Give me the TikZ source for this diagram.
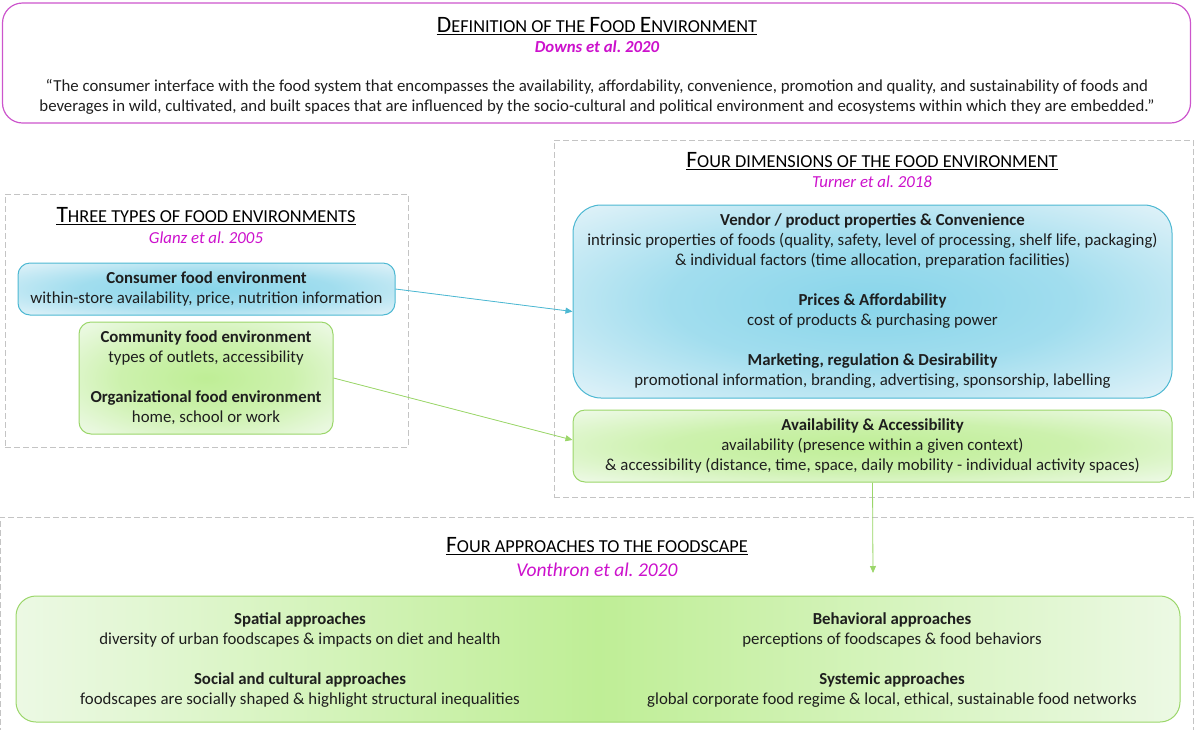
\documentclass[tikz,border=0pt]{standalone}
\usepackage{fontspec}
\setmainfont{Carlito}
\usetikzlibrary{arrows.meta}
\frenchspacing

\definecolor{defmag}{HTML}{CC55CC}
\definecolor{citemag}{HTML}{CC11CC}
\definecolor{bluedge}{HTML}{4DB8D2}
\definecolor{bluein}{HTML}{88D5EA}
\definecolor{blueout}{HTML}{DDF1F8}
\definecolor{greenedge}{HTML}{9BD66A}
\definecolor{greenin}{HTML}{BFEE96}
\definecolor{greenout}{HTML}{ECF9E4}
\definecolor{dashgray}{HTML}{C4C4C4}
\definecolor{txt}{HTML}{1E1E1E}

\pgfdeclareradialshading{blueglow}{\pgfpoint{0bp}{0bp}}{color(0bp)=(bluein); color(17bp)=(bluein!70!blueout); color(34bp)=(blueout); color(50bp)=(blueout)}
\pgfdeclareradialshading{greenglow}{\pgfpoint{0bp}{0bp}}{color(0bp)=(greenin); color(17bp)=(greenin!70!greenout); color(34bp)=(greenout); color(50bp)=(greenout)}

% fake small caps for the headings
\newcommand{\bigc}[1]{{\fontsize{23.5}{26}\selectfont #1}}
\newcommand{\smc}[1]{{\fontsize{18.3}{22}\selectfont\MakeUppercase{#1}}}

\tikzset{
  body/.style={font=\fontsize{16.8}{20}\selectfont, text=txt, align=center},
  headtxt/.style={inner sep=0pt, anchor=base, text=black},
  citetxt/.style={inner sep=0pt, anchor=base, text=citemag, font=\fontsize{16.8}{20}\selectfont\itshape},
  framebox/.style={draw=dashgray, dash pattern=on 6pt off 3pt, line width=0.9pt},
  bluebox/.style={body, draw=bluedge, line width=1pt, rounded corners=12pt, shading=blueglow},
  greenbox/.style={body, draw=greenedge, line width=1pt, rounded corners=12pt, shading=greenglow},
  link/.style={line width=0.8pt, -{Triangle[length=7pt,width=6pt]}},
}

\begin{document}
\begin{tikzpicture}[x=1pt, y=-1pt]
	\useasboundingbox (0,0) rectangle (1194,729);

	% Definition
	\node[draw=defmag, line width=1.2pt, rounded corners=20pt, minimum width=1188, minimum height=120] (defn) at (596.5,63) {};
	\node[headtxt] (deftitle) at (597,32) {\bigc{D}\smc{efinition of the }\bigc{F}\smc{ood }\bigc{E}\smc{nvironment}};
	\draw[line width=1.4pt] ([yshift=-2.5pt]deftitle.base west) -- ([yshift=-2.5pt]deftitle.base east);
	\node[citetxt, font=\fontsize{16.8}{20}\selectfont\bfseries\itshape] (defcite) at (597,52) {Downs et al. 2020};
	\node[body] (quote) at (597,97) {“The consumer interface with the food system that encompasses the availability, affordability, convenience, promotion and quality, and sustainability of foods and\\beverages in wild, cultivated, and built spaces that are influenced by the socio-cultural and political environment and ecosystems within which they are embedded.”};

	% Three types
	\node[framebox, minimum width=403, minimum height=253] (typesframe) at (206.5,320.5) {};
	\node[headtxt] (typestitle) at (206,222) {\bigc{T}\smc{hree types of food environments}};
	\draw[line width=1.4pt] ([yshift=-2.5pt]typestitle.base west) -- ([yshift=-2.5pt]typestitle.base east);
	\node[citetxt] (typescite) at (206,243) {Glanz et al. 2005};
	\node[bluebox, minimum width=377, minimum height=52] (cons) at (206.5,289) {\textbf{Consumer food environment}\\within-store availability, price, nutrition information};
	\node[greenbox, minimum width=254, minimum height=112] (comm) at (206,378) {\textbf{Community food environment}\\types of outlets, accessibility\\[20pt]\textbf{Organizational food environment}\\home, school or work};

	% Four dimensions
	\node[framebox, minimum width=639, minimum height=357] (dimsframe) at (873.5,318.5) {};
	\node[headtxt] (dimstitle) at (872,167) {\bigc{F}\smc{our dimensions of the food environment}};
	\draw[line width=1.4pt] ([yshift=-2.5pt]dimstitle.base west) -- ([yshift=-2.5pt]dimstitle.base east);
	\node[citetxt] (dimscite) at (872,187) {Turner et al. 2018};
	\node[bluebox, rounded corners=28pt, minimum width=599, minimum height=193] (dims) at (872.5,301.5) {\textbf{Vendor / product properties \& Convenience}\\intrinsic properties of foods (quality, safety, level of processing, shelf life, packaging)\\\& individual factors (time allocation, preparation facilities)\\[20pt]\textbf{Prices \& Affordability}\\cost of products \& purchasing power\\[20pt]\textbf{Marketing, regulation \& Desirability}\\promotional information, branding, advertising, sponsorship, labelling};
	\node[greenbox, minimum width=599, minimum height=72] (avail) at (872.5,446) {\textbf{Availability \& Accessibility}\\availability (presence within a given context)\\\& accessibility (distance, time, space, daily mobility - individual activity spaces)};

	% Four approaches
	\node[framebox, minimum width=1193, minimum height=220] (appframe) at (596.5,627) {};
	\node[headtxt] (apptitle) at (597,552) {\bigc{F}\smc{our approaches to the foodscape}};
	\draw[line width=1.4pt] ([yshift=-2.5pt]apptitle.base west) -- ([yshift=-2.5pt]apptitle.base east);
	\node[citetxt, font=\fontsize{19.5}{22}\selectfont\itshape] (appcite) at (597,576) {Vonthron et al. 2020};
	\node[draw=greenedge, line width=1pt, rounded corners=20pt, minimum width=1164, minimum height=126,
	  left color=greenout, right color=greenout, middle color=greenin] (approach) at (598,659) {};
	\node[body] (leftcol) at (300,660) {\textbf{Spatial approaches}\\diversity of urban foodscapes \& impacts on diet and health\\[20pt]\textbf{Social and cultural approaches}\\foodscapes are socially shaped \& highlight structural inequalities};
	\node[body] (rightcol) at (892,660) {\textbf{Behavioral approaches}\\perceptions of foodscapes \& food behaviors\\[20pt]\textbf{Systemic approaches}\\global corporate food regime \& local, ethical, sustainable food networks};

	% Links
	\coordinate (drop) at (873,573);
	\draw[link, draw=bluedge, fill=bluedge] (cons.east) -- ([yshift=-10pt]dims.west);
	\draw[link, draw=greenedge, fill=greenedge] (comm.east) -- ([yshift=6pt]avail.west);
	\draw[link, draw=greenedge, fill=greenedge] (avail.south) -- (drop);
\end{tikzpicture}
\end{document}
